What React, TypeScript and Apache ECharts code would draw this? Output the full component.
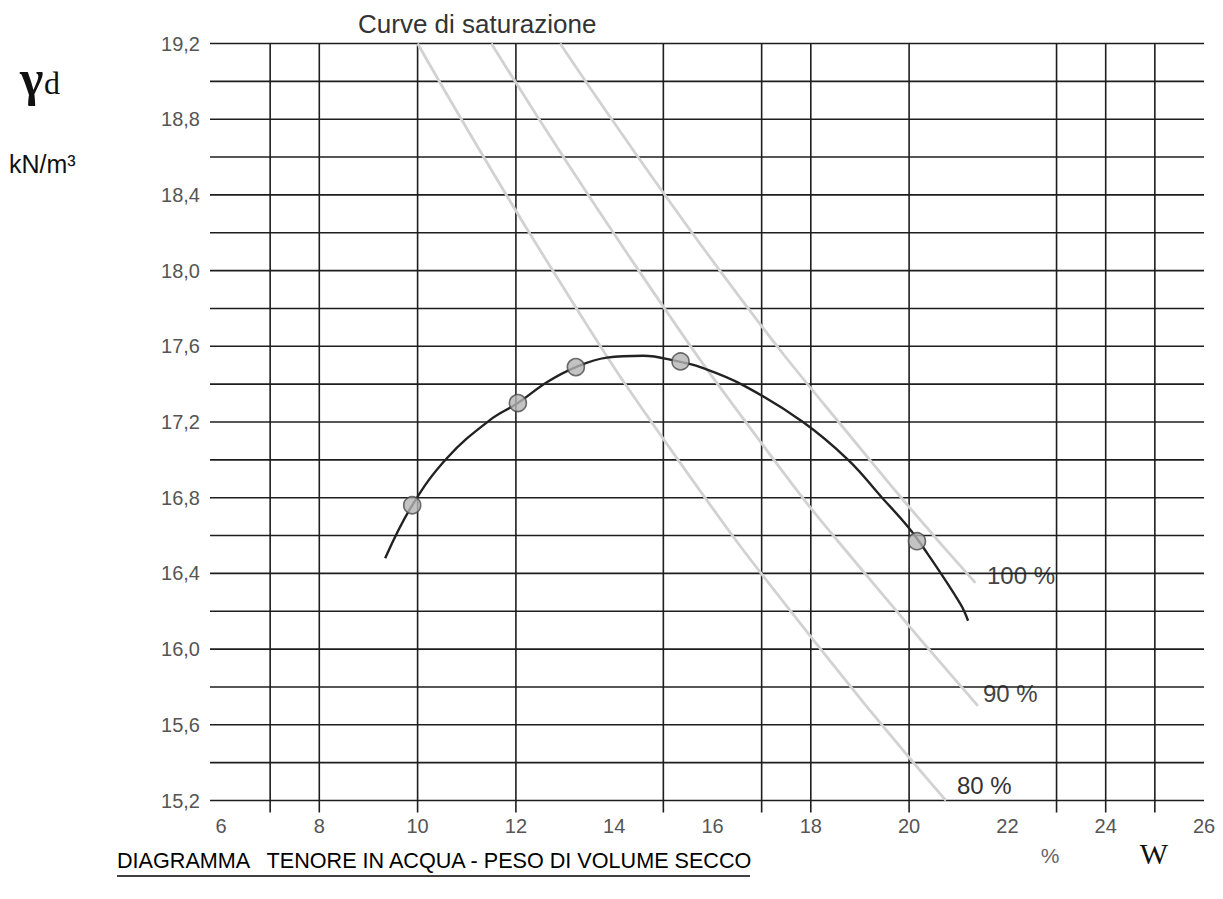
import { useEffect, useRef } from 'react';
import * as echarts from 'echarts';

const X_MIN = 6;
const X_MAX = 26;
const X_STEP = 2;
const Y_MIN = 15.2;
const Y_MAX = 19.2;
const Y_STEP = 0.4;

const H_GRID = [15.2, 15.4, 15.6, 15.8, 16.0, 16.2, 16.4, 16.6, 16.8, 17.0, 17.2, 17.4, 17.6, 17.8, 18.0, 18.2, 18.4, 18.6, 18.8, 19.0, 19.2];
const V_GRID = [7, 8, 10, 12, 15, 17, 18, 20, 23, 24, 25];

// Compaction curve (w %, gamma_d kN/m3)
const CURVE_W = [9.34, 9.89, 10.6, 11.47, 12.04, 12.63, 13.22, 13.85, 14.59, 15.3, 15.75, 16.62, 17.84, 18.76, 19.45, 19.98, 20.36, 21.04, 21.2];
const CURVE_G = [16.48, 16.76, 17.01, 17.21, 17.3, 17.41, 17.49, 17.54, 17.55, 17.52, 17.49, 17.395, 17.2, 17.0, 16.8, 16.645, 16.51, 16.24, 16.15];

// Test points
const TEST_W = [9.89, 12.04, 13.22, 15.35, 20.16];
const TEST_G = [16.76, 17.3, 17.49, 17.52, 16.57];

// Saturation curves
const SAT80_G = [19.2, 18.0, 17.0, 16.0, 15.2];
const SAT80_W = [10.0, 12.75, 15.3, 18.2, 20.75];
const SAT90_G = [19.2, 18.0, 17.0, 16.4, 15.7];
const SAT90_W = [11.5, 14.5, 17.25, 19.1, 21.4];
const SAT100_G = [19.2, 18.0, 17.0, 16.35];
const SAT100_W = [12.9, 16.15, 19.2, 21.35];

const SANS = '"Liberation Sans", Arial, sans-serif';
const SERIF = '"Liberation Serif", "Times New Roman", serif';

const zip = (xs: number[], ys: number[]) => xs.map((x, i) => [x, ys[i]]);

export default function App() {
  const ref = useRef<HTMLDivElement>(null);

  useEffect(() => {
    document.body.style.margin = '0';
    if (!ref.current) return;
    const chart = echarts.init(ref.current, undefined, { renderer: 'svg' });

    const satSeries = (data: number[][]) => ({
      type: 'line',
      data,
      smooth: true,
      symbol: 'none',
      lineStyle: { color: '#d2d2d2', width: 2.8 },
      silent: true,
      z: 2,
    });

    chart.setOption({
      animation: false,
      backgroundColor: '#ffffff',
      grid: { left: 221, right: 19, top: 43.5, bottom: 98.5, containLabel: false },
      xAxis: {
        type: 'value',
        min: X_MIN,
        max: X_MAX,
        interval: X_STEP,
        axisLine: { show: false },
        axisTick: { show: false },
        splitLine: { show: false },
        axisLabel: { color: '#555', fontSize: 20, fontFamily: SANS, margin: 15 },
      },
      yAxis: {
        type: 'value',
        min: Y_MIN,
        max: Y_MAX,
        interval: Y_STEP,
        axisLine: { show: false },
        axisTick: { show: false },
        splitLine: { show: false },
        axisLabel: {
          color: '#555',
          fontSize: 20,
          fontFamily: SANS,
          margin: 21,
          formatter: (v: number) => v.toFixed(1).replace('.', ','),
        },
      },
      series: [
        {
          type: 'custom',
          data: H_GRID.map((v) => [X_MIN, v]),
          clip: false,
          silent: true,
          z: 1,
          renderItem: (_p: any, api: any) => {
            const v = api.value(1);
            const a = api.coord([X_MIN, v]);
            const b = api.coord([X_MAX, v]);
            return {
              type: 'line',
              shape: { x1: a[0] - 11, y1: a[1], x2: b[0], y2: b[1] },
              style: { stroke: '#1e1e1e', lineWidth: 1.6 },
            };
          },
        },
        {
          type: 'custom',
          data: V_GRID.map((v) => [v, Y_MIN]),
          clip: false,
          silent: true,
          z: 1,
          renderItem: (_p: any, api: any) => {
            const v = api.value(0);
            const a = api.coord([v, Y_MAX]);
            const b = api.coord([v, Y_MIN]);
            return {
              type: 'line',
              shape: { x1: a[0], y1: a[1], x2: b[0], y2: b[1] + 12 },
              style: { stroke: '#1e1e1e', lineWidth: 1.6 },
            };
          },
        },
        satSeries(zip(SAT80_W, SAT80_G)),
        satSeries(zip(SAT90_W, SAT90_G)),
        satSeries(zip(SAT100_W, SAT100_G)),
        {
          type: 'line',
          data: zip(CURVE_W, CURVE_G),
          smooth: 0.4,
          symbol: 'none',
          lineStyle: { color: '#222', width: 2.4 },
          silent: true,
          z: 3,
        },
        {
          type: 'scatter',
          data: zip(TEST_W, TEST_G),
          symbol: 'circle',
          symbolSize: 17,
          itemStyle: { color: '#b4b4b4', borderColor: '#4a4a4a', borderWidth: 1.6 },
          silent: true,
          z: 4,
        },
      ],
      graphic: [
        { type: 'text', left: 358, top: 11, style: { text: 'Curve di saturazione', font: `26px ${SANS}`, fill: '#333' } },
        { type: 'text', x: 20, y: 78, style: { text: 'γ', font: `bold 50px ${SERIF}`, fill: '#111', verticalAlign: 'middle' } },
        { type: 'text', x: 44, y: 83, style: { text: 'd', font: `32px ${SERIF}`, fill: '#111', verticalAlign: 'middle' } },
        { type: 'text', x: 9, y: 164, style: { text: 'kN/m³', font: `25px ${SANS}`, fill: '#111', verticalAlign: 'middle' } },
        { type: 'text', x: 987, y: 575, style: { text: '100 %', font: `24px ${SANS}`, fill: '#444', verticalAlign: 'middle' } },
        { type: 'text', x: 983, y: 693, style: { text: '90 %', font: `24px ${SANS}`, fill: '#444', verticalAlign: 'middle' } },
        { type: 'text', x: 957, y: 785, style: { text: '80 %', font: `24px ${SANS}`, fill: '#333', verticalAlign: 'middle' } },
        { type: 'text', x: 117, y: 860, style: { text: 'DIAGRAMMA   TENORE IN ACQUA - PESO DI VOLUME SECCO', font: `21.6px ${SANS}`, fill: '#000', verticalAlign: 'middle' } },
        { type: 'line', shape: { x1: 117, y1: 876, x2: 750, y2: 876 }, style: { stroke: '#000', lineWidth: 1.5 } },
        { type: 'text', x: 1050, y: 855, style: { text: '%', font: `21px ${SANS}`, fill: '#666', align: 'center', verticalAlign: 'middle' } },
        { type: 'text', x: 1154, y: 853, style: { text: 'W', font: `30px ${SERIF}`, fill: '#111', align: 'center', verticalAlign: 'middle' } },
      ],
    });

    return () => chart.dispose();
  }, []);

  return <div ref={ref} style={{ width: 1223, height: 899 }} />;
}
